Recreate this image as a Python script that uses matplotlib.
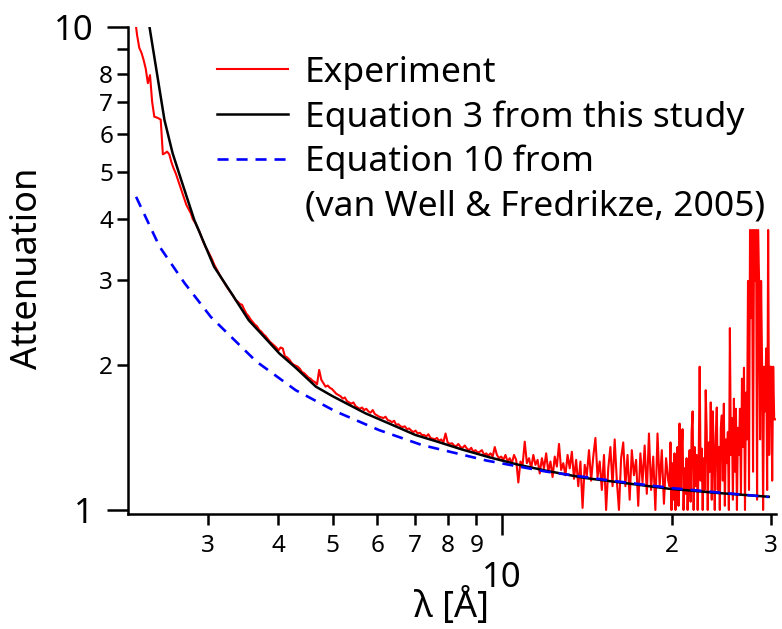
import numpy as np
import matplotlib
matplotlib.use("Agg")
import matplotlib.pyplot as plt
from matplotlib.ticker import FixedLocator, FixedFormatter
from matplotlib.lines import Line2D

plt.rcParams['font.family'] = ['Noto Sans', 'DejaVu Sans']

# ---------------- data ----------------
# Experiment, part A: log-spaced wavelength grid lam_a_start..lam_a_end
lam_a_start, lam_a_end = 2.23, 19.70
experiment_a = [
    10.4, 9.6, 9.05, 8.85, 8.55, 8.2, 7.65, 7.95, 7.0, 6.52,
    6.50, 6.47, 6.43, 5.45, 5.48, 5.52, 5.45, 5.25, 5.1, 4.98,
    4.83, 4.68, 4.55, 4.40, 4.28, 4.20, 4.12, 4.00, 3.94, 3.86,
    3.78, 3.68, 3.58, 3.50, 3.44, 3.37, 3.30, 3.22, 3.16, 3.10,
    3.04, 2.99, 2.94, 2.89, 2.85, 2.81, 2.77, 2.72, 2.70, 2.67,
    2.66, 2.60, 2.55, 2.52, 2.48, 2.45, 2.42, 2.40, 2.36, 2.34,
    2.31, 2.29, 2.26, 2.23, 2.21, 2.19, 2.17, 2.14, 2.17, 2.16,
    2.08, 2.07, 2.05, 2.02, 2.00, 1.99, 1.98, 1.96, 1.93, 1.92,
    1.90, 1.88, 1.87, 1.85, 1.84, 1.82, 1.95, 1.86, 1.83, 1.80,
    1.81, 1.79, 1.78, 1.76, 1.74, 1.73, 1.72, 1.70, 1.71, 1.68,
    1.67, 1.66, 1.67, 1.64, 1.63, 1.62, 1.63, 1.61, 1.62, 1.60,
    1.59, 1.61, 1.58, 1.57, 1.56, 1.555, 1.55, 1.56, 1.535, 1.53,
    1.52, 1.53, 1.50, 1.505, 1.49, 1.485, 1.49, 1.47, 1.475, 1.46,
    1.45, 1.46, 1.44, 1.445, 1.43, 1.43, 1.42, 1.435, 1.41, 1.405,
    1.40, 1.41, 1.39, 1.40, 1.38, 1.44, 1.38, 1.37, 1.375, 1.36,
    1.355, 1.37, 1.35, 1.345, 1.36, 1.34, 1.33, 1.345, 1.32, 1.33,
    1.315, 1.32, 1.33, 1.30, 1.31, 1.295, 1.31, 1.29, 1.35, 1.30,
    1.28, 1.29, 1.27, 1.30, 1.26, 1.28, 1.25, 1.30, 1.27, 1.14,
    1.26, 1.24, 1.385, 1.25, 1.28, 1.22, 1.30, 1.24, 1.27, 1.19,
    1.28, 1.22, 1.31, 1.20, 1.26, 1.17, 1.29, 1.23, 1.37, 1.21,
    1.25, 1.18, 1.30, 1.22, 1.32, 1.16, 1.27, 1.12, 1.26, 1.01,
    1.24, 1.18, 1.33, 1.15, 1.29, 1.41, 1.17, 1.26, 1.10, 1.30,
    1.00, 1.22, 1.35, 1.12, 1.40, 1.15, 1.00, 1.28, 1.38, 1.12,
    1.30, 1.05, 1.33, 1.18, 1.27, 1.02, 1.31, 1.14, 1.36, 1.08,
    1.44, 1.10, 1.29, 1.00, 1.44, 1.12, 1.33, 1.03, 1.28, 1.15,
]
# Experiment, part B (denser log-spaced grid lam_b_start..lam_b_end)
lam_b_start, lam_b_end = 19.80, 30.5
experiment_b = [
    1.12, 1.38, 1.00, 1.25, 1.05, 1.31, 1.00, 1.20, 1.35, 1.02,
    1.51, 1.10, 1.30, 1.47, 1.00, 1.22, 1.08, 1.28, 1.00, 1.18,
    1.33, 1.04, 1.45, 1.60, 1.00, 1.35, 1.12, 1.30, 1.00, 1.25,
    1.98, 1.15, 1.34, 1.00, 1.28, 1.10, 1.77, 1.45, 1.00, 1.38,
    1.20, 1.67, 1.05, 1.60, 1.30, 1.00, 1.42, 1.63, 1.10, 1.35,
    1.00, 1.48, 1.57, 1.15, 1.66, 1.02, 1.40, 1.25, 1.45, 1.00,
    2.38, 1.30, 1.55, 1.05, 1.70, 1.20, 1.62, 1.00, 1.48, 1.30,
    1.62, 1.08, 1.87, 1.35, 1.97, 1.00, 1.75, 1.40, 2.98, 1.10,
    3.80, 2.50, 3.80, 1.20, 3.80, 2.98, 3.80, 1.05, 3.80, 2.98,
    1.40, 2.98, 1.98, 1.00, 1.98, 1.60, 2.16, 1.10, 3.80, 1.30,
    1.98, 1.98, 1.15, 1.98, 1.54, 1.54,
]

lam_eq3 = [2.30, 2.366, 2.44, 2.515, 2.60, 2.70, 2.84, 3.00, 3.08, 3.30,
           3.55, 3.77, 4.02, 4.30, 4.67, 5.00, 5.72, 6.30, 7.01, 7.70,
           8.47, 9.50, 10.7, 12.0, 14.0, 16.7, 19.7, 24.0, 29.7]
eq3 = [12.6, 10.0, 8.0, 6.42, 5.48, 4.78, 3.99, 3.43, 3.19, 2.82,
       2.47, 2.29, 2.11, 1.97, 1.80, 1.72, 1.585, 1.51, 1.43, 1.383,
       1.335, 1.285, 1.24, 1.205, 1.165, 1.135, 1.107, 1.085, 1.065]

lam_eq10 = [2.24, 2.465, 2.73, 3.04, 3.66, 4.30, 5.06, 6.04, 7.20, 9.40,
            12.0, 15.6, 20.0, 25.0, 29.7]
eq10 = [4.45, 3.51, 2.95, 2.51, 2.03, 1.77, 1.60, 1.464, 1.363, 1.265,
        1.20, 1.15, 1.11, 1.083, 1.064]

labels = ["Experiment", "Equation 3 from this study", "Equation 10 from",
          "(van Well & Fredrikze, 2005)"]

x_major = [10]
x_major_labels = ["10"]
x_minor = [3, 4, 5, 6, 7, 8, 9, 20, 30]
x_minor_labels = ["3", "4", "5", "6", "7", "8", "9", "2", "3"]
y_major = [1, 10]
y_major_labels = ["1", "10"]
y_minor = [2, 3, 4, 5, 6, 7, 8, 9]
y_minor_labels = ["2", "3", "4", "5", "6", "7", "8", ""]

# ---------------- figure ----------------
fig = plt.figure(figsize=(7.82, 6.29), dpi=100)
ax = fig.add_axes([128 / 782, 1 - 514 / 629, 648 / 782, 487 / 629])

lam_exp = np.concatenate([np.geomspace(lam_a_start, lam_a_end, len(experiment_a)),
                          np.geomspace(lam_b_start, lam_b_end, len(experiment_b))])
exp_vals = np.concatenate([experiment_a, experiment_b])

l1, = ax.plot(lam_exp, exp_vals, color="#ff0000", lw=1.5)
l2, = ax.plot(lam_eq3, eq3, color="black", lw=1.8)
l3, = ax.plot(lam_eq10, eq10, color="#0000ff", lw=1.9, linestyle=(0, (4.2, 3.0)))

ax.set_xscale("log")
ax.set_yscale("log")
ax.set_xlim(2.167, 30.6)
ax.set_ylim(0.981, 10.0)

for s in ["top", "right"]:
    ax.spines[s].set_visible(False)
for s in ["left", "bottom"]:
    ax.spines[s].set_linewidth(1.8)

ax.xaxis.set_major_locator(FixedLocator(x_major))
ax.xaxis.set_major_formatter(FixedFormatter(x_major_labels))
ax.xaxis.set_minor_locator(FixedLocator(x_minor))
ax.xaxis.set_minor_formatter(FixedFormatter(x_minor_labels))
ax.yaxis.set_major_locator(FixedLocator(y_major))
ax.yaxis.set_major_formatter(FixedFormatter(y_major_labels))
ax.yaxis.set_minor_locator(FixedLocator(y_minor))
ax.yaxis.set_minor_formatter(FixedFormatter(y_minor_labels))

ax.tick_params(axis="both", which="both", direction="out", width=1.8, color="black")
ax.tick_params(axis="x", which="major", length=15, labelsize=25, pad=18.5)
ax.tick_params(axis="x", which="minor", length=7.7, labelsize=17.5, pad=6.5)
ax.tick_params(axis="y", which="major", length=15, labelsize=25, pad=9.5)
ax.tick_params(axis="y", which="minor", length=7.7, labelsize=17.5, pad=3)

fig.text(28 / 782, 1 - 268 / 629, "Attenuation", rotation=90, ha="center",
         va="center", fontsize=26)
fig.text(452 / 782, 1 - 607 / 629, "λ [Å]", ha="center", va="center", fontsize=26)

blank = Line2D([], [], color="none")
leg = ax.legend([l1, l2, l3, blank], labels, loc="upper left",
                bbox_to_anchor=(0.1373, 0.941), frameon=False, fontsize=25.5,
                handlelength=2.0, handletextpad=0.48, labelspacing=0.29,
                borderpad=0, borderaxespad=0)

fig.savefig("out.png", dpi=100)
